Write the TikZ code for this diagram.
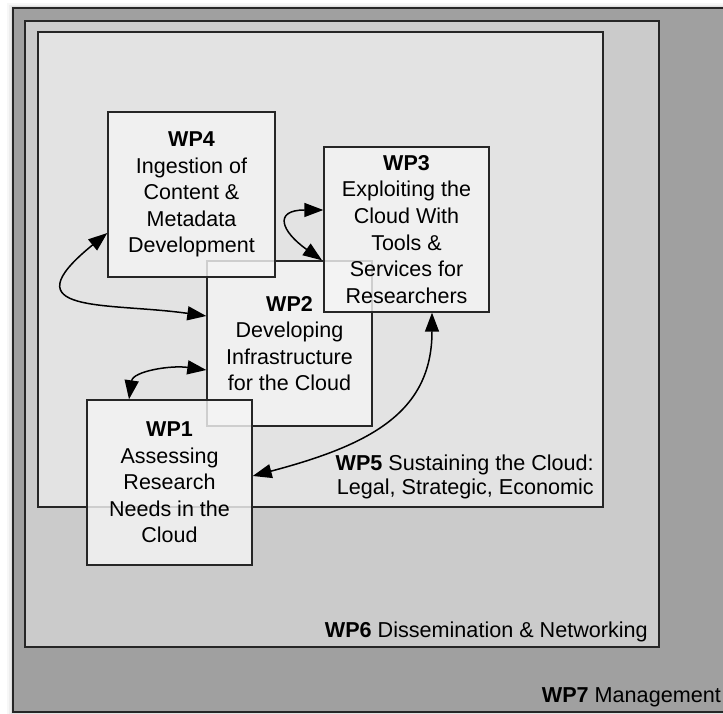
\documentclass[tikz,border=0pt]{standalone}
\usepackage{fontspec}
\setmainfont{Liberation Sans}
\usetikzlibrary{arrows.meta,calc}
\definecolor{wpseven}{HTML}{A0A0A0}
\definecolor{wpsix}{HTML}{CBCBCB}
\definecolor{wpfive}{HTML}{E3E3E3}
\definecolor{boxfill}{HTML}{F4F4F4}
\definecolor{edge}{HTML}{262626}
\begin{document}
\begin{tikzpicture}[x=1pt,y=1pt,
  frame/.style={draw=edge, line width=1.5pt, inner sep=0pt, outer sep=0pt},
  wpbox/.style={draw=edge, line width=1.4pt, fill=boxfill, fill opacity=0.82, text opacity=1,
    minimum width=165pt, minimum height=165pt, inner sep=0pt, align=center,
    font=\fontsize{21.5}{26.6}\selectfont},
  lbl/.style={inner sep=0pt, font=\fontsize{21.6}{24.5}\selectfont},
  link/.style={{Triangle[length=19pt,width=14pt]}-{Triangle[length=19pt,width=14pt]}, line width=1.5pt, draw=black}
]
\useasboundingbox (0,0) rectangle (723,713);
\fill[white] (0,0) rectangle (723,713);
% soft shadow of the outer frame
\fill[black, opacity=0.03] (7,-5) rectangle (730,710);
\fill[black, opacity=0.04] (9,-5) rectangle (730,708);
\fill[black, opacity=0.05] (11,-5) rectangle (730,706.5);
% frames
\node[frame, fill=wpseven, minimum width=712pt, minimum height=704pt] (wp7) at (369,353) {};
\node[frame, fill=wpsix, minimum width=634pt, minimum height=626pt] (wp6) at (342,379) {};
\node[frame, fill=wpfive, minimum width=565pt, minimum height=475pt] (wp5) at (320.5,443.5) {};
% frame labels
\node[lbl, anchor=base east] (l7) at ($(wp7.south east)+(-4,10)$) {\textbf{WP7} Management};
\node[lbl, anchor=base east] (l6) at ($(wp6.south east)+(-11,10)$) {\textbf{WP6} Dissemination \& Networking};
\node[lbl, anchor=base east] (l5) at ($(wp5.south east)+(-9,12.5)$)
  {\begin{tabular}[b]{@{}r@{}}\textbf{WP5} Sustaining the Cloud:\\ Legal, Strategic, Economic\end{tabular}};
% work package boxes
\node[wpbox] (wp2) at (289.5,369.5) {\textbf{WP2}\\Developing\\Infrastructure\\for the Cloud};
\node[wpbox, minimum width=167pt] (wp4) at (191.5,518.5) {\textbf{WP4}\\Ingestion of\\Content \&\\Metadata\\Development};
\node[wpbox] (wp3) at (406.5,483.5) {\textbf{WP3}\\Exploiting the\\Cloud With\\Tools \&\\Services for\\Researchers};
\node[wpbox] (wp1) at (169.5,230.5) {\textbf{WP1}\\Assessing\\Research\\Needs in the\\Cloud};
% connectors
\draw[link] ([yshift=-38.5pt]wp4.west) .. controls +(-101,-82) and +(-99,14) .. ([yshift=27.5pt]wp2.west);
\draw[link] ([yshift=19.5pt]wp3.west) .. controls +(-50,0) and +(-41,29) .. ([xshift=32.5pt]wp2.north);
\draw[link] ([xshift=-40.5pt]wp1.north) .. controls +(4,28) and +(-36,5) .. ([yshift=-26.5pt]wp2.west);
\draw[link] ([xshift=25.5pt]wp3.south) .. controls +(0,-100) and +(117,31) .. ([yshift=6.5pt]wp1.east);
\end{tikzpicture}
\end{document}
